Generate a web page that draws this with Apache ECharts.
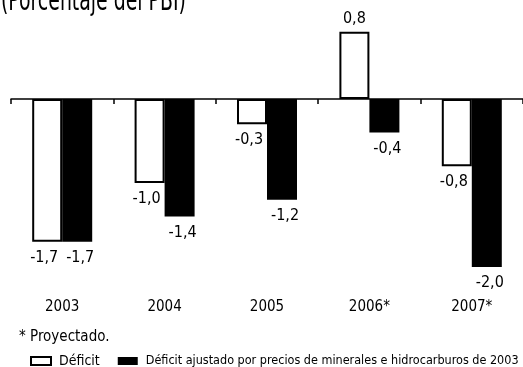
<!DOCTYPE html>
<html>
<head>
<meta charset="utf-8">
<script src="https://cdn.jsdelivr.net/npm/echarts@6/dist/echarts.min.js"></script>
<style>
html,body{margin:0;padding:0;background:#fff;}
#c{width:523px;height:367px;}
</style>
</head>
<body>
<div id="c"></div>
<script>
const categories = ['2003', '2004', '2005', '2006*', '2007*'];
const deficit = [-1.7, -1.0, -0.3, 0.8, -0.8];
const deficitAjustado = [-1.7, -1.4, -1.2, -0.4, -2.0];
const seriesNames = ['Déficit', 'Déficit ajustado por precios de minerales e hidrocarburos de 2003'];
const titleText = '(Porcentaje del PBI)';
const noteText = '* Proyectado.';

const FONT = '"Liberation Sans Narrow", "DejaVu Sans Condensed", "Lato", sans-serif';
const fmt = v => v.toFixed(1).replace('.', ',');

const chart = echarts.init(document.getElementById('c'), null, {renderer: 'canvas'});
chart.setOption({
  animation: false,
  backgroundColor: '#fff',
  title: [
    {text: noteText, left: 14, top: 325, textStyle: {fontFamily: FONT, fontSize: 15, fontWeight: 'normal', color: '#000'}}
  ],
  graphic: [
    {type: 'text', x: 1, y: 17, scaleY: 1.4, silent: true,
     style: {text: titleText, fontFamily: FONT, fontSize: 21, fill: '#000', verticalAlign: 'bottom', align: 'left'}}
  ],
  grid: {left: 11, top: 15, width: 514, height: 268.8},
  legend: {
    left: 30, top: 354, width: 510, itemWidth: 20, itemHeight: 8, itemGap: 18, padding: 0,
    icon: 'rect',
    textStyle: {fontFamily: FONT, fontSize: 12.5, color: '#000', padding: [0, 0, 0, 3]},
    data: [
      {name: seriesNames[0], textStyle: {fontSize: 14}},
      {name: seriesNames[1]}
    ]
  },
  xAxis: [
    {type: 'category', data: categories, axisLine: {onZero: true, lineStyle: {color: '#000', width: 1.5}},
     axisTick: {show: true, length: 5, lineStyle: {color: '#000', width: 1.5}}, axisLabel: {show: false}},
    {type: 'category', data: categories, position: 'bottom', axisLine: {show: false}, axisTick: {show: false},
     axisLabel: {margin: 16, fontFamily: FONT, fontSize: 15, color: '#000'}}
  ],
  yAxis: {type: 'value', min: -2.2, max: 1.0, show: false, splitLine: {show: false}},
  series: [
    {name: seriesNames[0], type: 'bar', xAxisIndex: 0, barWidth: 30, barGap: '0%',
     data: deficit.map(v => v >= 0 ? {value: v, label: {position: 'top', distance: 5, offset: [0, 0]}} : v),
     itemStyle: {color: '#fff', borderColor: '#000', borderWidth: 2},
     label: {show: true, fontFamily: FONT, fontSize: 16, color: '#000', distance: 8,
       formatter: p => fmt(p.value), position: 'bottom', offset: [-3, 0]}
    },
    {name: seriesNames[1], type: 'bar', xAxisIndex: 0, data: deficitAjustado, barWidth: 30, barGap: '0%',
     itemStyle: {color: '#000', borderColor: '#000', borderWidth: 0},
     label: {show: true, fontFamily: FONT, fontSize: 16, color: '#000', distance: 8,
       formatter: p => fmt(p.value), position: 'bottom', offset: [3, 0]}
    }
  ]
});
</script>
</body>
</html>
